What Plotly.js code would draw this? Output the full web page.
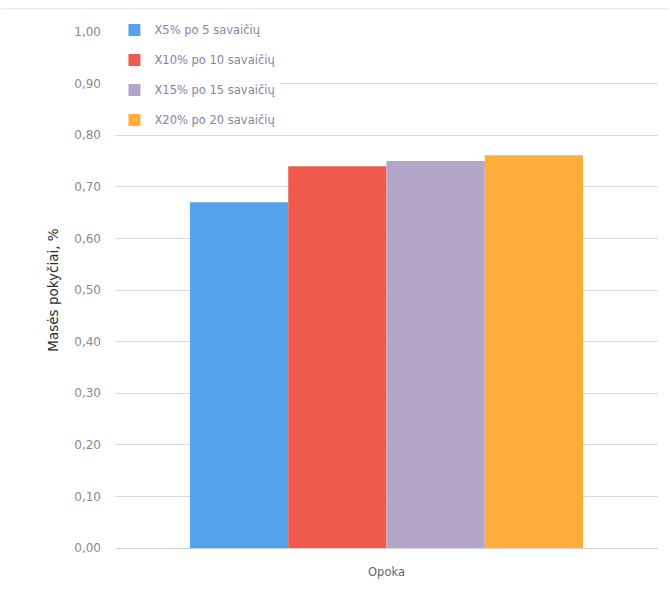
<!DOCTYPE html>
<html>
<head>
<meta charset="utf-8">
<script src="https://cdn.plot.ly/plotly-3.0.1.min.js"></script>
<style>
  html, body { margin: 0; padding: 0; background: #ffffff; }
  #chart { width: 670px; height: 596px; }
</style>
</head>
<body>
<div id="chart"></div>
<script>
// Mass change of Opoka samples after each exposure period
const categories = ["Opoka"];
const seriesNames = [
  "X5% po 5 savaičių",
  "X10% po 10 savaičių",
  "X15% po 15 savaičių",
  "X20% po 20 savaičių"
];
const seriesValues = [
  [0.670],
  [0.740],
  [0.750],
  [0.761]
];
const seriesColors = ["#55a4eb", "#f05a4d", "#b4a6c8", "#fdad3a"];
const yTicks = [0, 0.1, 0.2, 0.3, 0.4, 0.5, 0.6, 0.7, 0.8, 0.9, 1.0];

const traces = seriesNames.map((name, i) => ({
  type: "bar",
  name: name,
  x: categories,
  y: seriesValues[i],
  marker: { color: seriesColors[i], line: { width: 0 } },
  legendgroup: "g" + i,
  hoverinfo: "skip"
}));

const layout = {
  width: 670,
  height: 596,
  separators: ",.",
  paper_bgcolor: "#ffffff",
  plot_bgcolor: "#ffffff",
  font: { family: "DejaVu Sans, sans-serif", size: 11, color: "#7f7f7f" },
  margin: { l: 115, r: 12, t: 32, b: 48, pad: 0, autoexpand: false },
  barmode: "group",
  bargap: 0.276,
  bargroupgap: 0,
  showlegend: true,
  legend: {
    x: -0.001,
    y: 1.032,
    xanchor: "left",
    yanchor: "top",
    bgcolor: "rgba(255,255,255,1)",
    font: { family: "DejaVu Sans, sans-serif", size: 11.5, color: "#8585a3" },
    itemwidth: 30,
    tracegroupgap: 11,
    traceorder: "grouped"
  },
  xaxis: {
    type: "category",
    showgrid: false,
    zeroline: false,
    showline: false,
    ticks: "",
    tickfont: { size: 11.5, color: "#666666" },
    ticklabelstandoff: 15
  },
  yaxis: {
    range: [0, 1.0],
    tickvals: yTicks,
    tickformat: ".2f",
    showgrid: true,
    gridcolor: "#dadada",
    gridwidth: 1,
    zeroline: true,
    zerolinecolor: "#d0d0d0",
    zerolinewidth: 1,
    showline: false,
    ticks: "",
    ticklabelstandoff: 13,
    tickfont: { size: 12, color: "#8a8a8a" },
    title: {
      text: "Masės pokyčiai, %",
      font: { family: "DejaVu Sans, sans-serif", size: 13.5, color: "#2b2b2b" },
      standoff: 12
    }
  },
  shapes: [
    { type: "line", xref: "paper", yref: "paper", x0: -0.21, x1: 1.02, y0: 1.045, y1: 1.045,
      line: { color: "#e4e4e4", width: 1 } }
  ]
};

Plotly.newPlot("chart", traces, layout, { staticPlot: true, displayModeBar: false });
</script>
</body>
</html>
